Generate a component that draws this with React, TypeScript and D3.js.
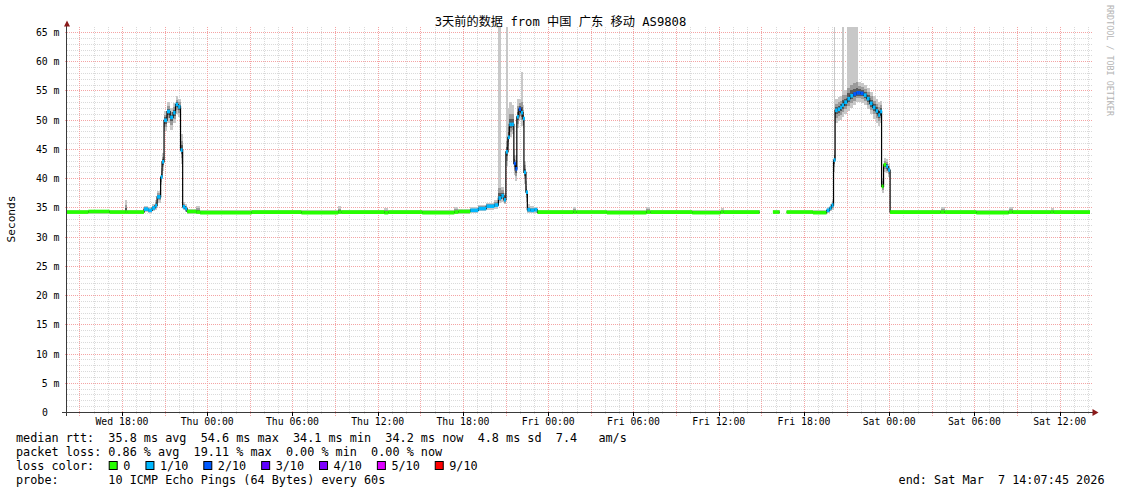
import React from 'react';
import * as d3 from 'd3';

// ---------- data ----------
// time axis: 3 days ending Sat Mar 7 14:07:45 2026
const START_UTC = Date.UTC(2026, 2, 4, 14, 7, 45);
const SPAN_HOURS = 72;

// sample: [hours since start, median ms (null = no data), loss (tenths), smoke min ms, smoke max ms]
type Sample = [number, number | null, number, number | null, number | null];

const wedBaseline: Sample[] = [
  [0.0, 34.2, 0, 33.9, 34.5],
  [1.5, 34.3, 0, 33.9, 34.6],
  [3.0, 34.2, 0, 33.9, 34.5],
  [4.09, 34.2, 0, 33.9, 36.3],
  [4.23, 34.2, 0, 33.9, 34.6],
];

const wedPeak: Sample[] = [
  [5.42, 34.7, 1, 34.2, 35.3],
  [5.71, 34.5, 1, 34.1, 35.0],
  [5.99, 34.9, 1, 34.3, 35.6],
  [6.2, 35.3, 1, 34.5, 36.2],
  [6.34, 36.8, 1, 35.8, 37.8],
  [6.59, 40.2, 1, 38.8, 41.8],
  [6.69, 42.8, 1, 41.2, 44.3],
  [6.83, 49.9, 1, 48.0, 51.5],
  [7.04, 51.4, 1, 49.5, 53.0],
  [7.26, 50.4, 1, 48.3, 52.0],
  [7.47, 51.2, 1, 49.5, 52.8],
  [7.64, 52.6, 1, 51.0, 54.0],
  [7.82, 52.2, 1, 50.5, 53.5],
  [7.99, 44.8, 1, 42.5, 47.5],
  [8.14, 35.1, 1, 34.5, 36.0],
  [8.31, 34.8, 1, 34.2, 35.6],
  [8.45, 34.3, 0, 33.9, 34.8],
];

const thuBaseline: Sample[] = [
  [9.09, 34.2, 0, 33.9, 35.3],
  [9.37, 34.1, 0, 33.8, 34.6],
  [13.0, 34.2, 0, 33.9, 34.5],
  [16.5, 34.1, 0, 33.8, 34.5],
  [19.09, 34.2, 0, 33.9, 35.2],
  [19.3, 34.2, 0, 33.9, 34.5],
  [22.33, 34.1, 0, 33.8, 34.9],
  [22.61, 34.2, 0, 33.9, 34.5],
  [25.0, 34.1, 0, 33.8, 34.5],
  [27.26, 34.2, 0, 33.9, 35.0],
  [27.54, 34.3, 0, 33.9, 34.7],
];

const thuPeak: Sample[] = [
  [28.39, 34.5, 1, 34.0, 35.0],
  [28.95, 34.8, 1, 34.3, 35.4],
  [29.51, 35.2, 1, 34.6, 35.8],
  [30.08, 35.4, 1, 34.8, 36.2],
  [30.36, 36.6, 1, 35.8, 66.0],
  [30.57, 37.0, 1, 36.0, 38.5],
  [30.75, 36.3, 1, 35.5, 37.5],
  [30.89, 44.5, 1, 42.0, 66.0],
  [31.03, 47.0, 1, 44.5, 52.0],
  [31.13, 49.2, 1, 47.0, 53.0],
  [31.31, 49.2, 1, 47.5, 52.5],
  [31.45, 42.5, 2, 40.5, 45.0],
  [31.56, 41.6, 2, 39.5, 44.0],
  [31.66, 50.5, 1, 48.5, 53.5],
  [31.8, 51.8, 2, 50.0, 53.5],
  [31.95, 51.2, 1, 49.0, 58.2],
  [32.09, 50.2, 1, 48.5, 52.5],
  [32.16, 41.0, 1, 39.0, 43.0],
  [32.3, 37.6, 1, 36.0, 39.5],
  [32.4, 34.6, 1, 34.0, 35.5],
  [32.61, 34.5, 1, 34.0, 35.2],
  [32.89, 34.6, 1, 34.1, 35.1],
  [33.11, 34.2, 0, 33.9, 34.6],
];

const friBaseline: Sample[] = [
  [35.64, 34.2, 0, 33.9, 35.0],
  [35.85, 34.2, 0, 33.9, 34.5],
  [38.0, 34.1, 0, 33.8, 34.5],
  [40.78, 34.2, 0, 33.9, 35.0],
  [41.06, 34.2, 0, 33.9, 34.5],
  [44.0, 34.1, 0, 33.8, 34.5],
  [46.0, 34.2, 0, 33.9, 34.9],
  [46.21, 34.2, 0, 33.9, 34.5],
  [48.74, null, 0, null, null],
  [49.68, 34.2, 0, 33.9, 34.5],
  [50.15, null, 0, null, null],
  [50.64, 34.2, 0, 33.9, 34.5],
  [52.5, 34.1, 0, 33.8, 34.5],
];

const friPeak: Sample[] = [
  [53.46, 34.5, 1, 34.0, 35.0],
  [53.67, 34.9, 1, 34.3, 35.5],
  [53.81, 35.4, 1, 34.6, 36.5],
  [53.95, 43.1, 1, 41.0, 66.0],
  [54.06, 51.6, 1, 49.5, 53.5],
  [54.24, 51.8, 1, 49.8, 53.8],
  [54.41, 52.1, 1, 50.0, 54.0],
  [54.52, 52.5, 1, 50.5, 66.0],
  [54.7, 53.0, 1, 51.0, 55.0],
  [54.92, 53.6, 1, 51.5, 66.0],
  [55.13, 54.1, 1, 52.0, 66.0],
  [55.34, 54.4, 2, 52.5, 66.0],
  [55.55, 54.6, 2, 53.0, 66.0],
  [55.68, 54.6, 2, 53.0, 56.5],
  [55.86, 54.5, 2, 52.8, 56.3],
  [56.07, 54.2, 1, 52.5, 56.0],
  [56.28, 53.6, 1, 51.8, 55.5],
  [56.49, 52.8, 1, 51.0, 54.8],
  [56.7, 52.1, 1, 50.2, 54.0],
  [56.91, 51.5, 1, 49.5, 53.5],
  [57.09, 50.8, 1, 49.0, 53.0],
  [57.23, 51.4, 1, 49.5, 53.2],
  [57.33, 38.6, 0, 37.5, 40.0],
  [57.47, 42.3, 0, 41.0, 43.5],
  [57.65, 42.0, 1, 40.8, 43.2],
  [57.79, 41.4, 1, 40.2, 42.5],
  [57.93, 34.2, 0, 33.9, 34.6],
];

const satBaseline: Sample[] = [
  [61.49, 34.2, 0, 33.9, 35.0],
  [61.77, 34.2, 0, 33.9, 34.5],
  [64.0, 34.1, 0, 33.8, 34.5],
  [66.28, 34.2, 0, 33.9, 35.0],
  [66.56, 34.2, 0, 33.9, 34.5],
  [69.24, 34.2, 0, 33.9, 34.9],
  [69.45, 34.2, 0, 33.9, 34.5],
  [72.0, 34.2, 0, 33.9, 34.5],
];

const yTickValues = [0, 5, 10, 15, 20, 25, 30, 35, 40, 45, 50, 55, 60, 65];
const yTickLabels = ['0', '5 m', '10 m', '15 m', '20 m', '25 m', '30 m', '35 m', '40 m', '45 m', '50 m', '55 m', '60 m', '65 m'];
const xTickLabels = [
  'Wed 18:00', 'Thu 00:00', 'Thu 06:00', 'Thu 12:00', 'Thu 18:00', 'Fri 00:00',
  'Fri 06:00', 'Fri 12:00', 'Fri 18:00', 'Sat 00:00', 'Sat 06:00', 'Sat 12:00',
];

const lossLabels = ['0', '1/10', '2/10', '3/10', '4/10', '5/10', '9/10'];
const lossColors = ['#26ff00', '#00b8ff', '#0059ff', '#5e00ff', '#7e00ff', '#dd00ff', '#ff0000'];
const lossColorByTenths: Record<number, string> = { 0: '#26ff00', 1: '#00b8ff', 2: '#0059ff', 3: '#5e00ff', 4: '#7e00ff', 5: '#dd00ff', 9: '#ff0000' };

const titleText = '3天前的数据 from 中国 广东 移动 AS9808';
const legendMedian = 'median rtt:  35.8 ms avg  54.6 ms max  34.1 ms min  34.2 ms now  4.8 ms sd  7.4   am/s';
const legendLoss = 'packet loss: 0.86 % avg  19.11 % max  0.00 % min  0.00 % now';
const legendLossColor = 'loss color:';
const legendProbe = 'probe:       10 ICMP Echo Pings (64 Bytes) every 60s';
const legendEnd = 'end: Sat Mar  7 14:07:45 2026';
const yAxisTitle = 'Seconds';
const watermark = 'RRDTOOL / TOBI OETIKER';

// ---------- component ----------
const MONO = "'DejaVu Sans Mono', 'Noto Sans CJK SC', monospace";
const PRE: React.CSSProperties = { whiteSpace: 'pre' };

export default function App() {
  const W = 1121;
  const H = 494;
  const left = 67;
  const right = 1090;
  const gridRight = 1092;
  const bottom = 412;
  const top = 27;

  const t0 = new Date(START_UTC);
  const t1 = new Date(START_UTC + SPAN_HOURS * 3600e3);
  const x = d3.scaleUtc().domain([t0, t1]).range([left, right]);
  const y = d3.scaleLinear().domain([0, 65.86]).range([bottom, top]).clamp(true);
  const toDate = (h: number) => new Date(START_UTC + h * 3600e3);

  const samples: Sample[] = [
    ...wedBaseline, ...wedPeak, ...thuBaseline, ...thuPeak,
    ...friBaseline, ...friPeak, ...satBaseline,
  ];

  const crisp = (v: number) => Math.round(v) + 0.5;

  const hourTicks = x.ticks(d3.utcHour.every(1)!);
  const majorTicks = x.ticks(d3.utcHour.every(3)!);
  const labelTicks = x.ticks(d3.utcHour.every(6)!);
  const minorY = d3.range(0, 66, 1);

  const segs: { x0: number; x1: number; s: Sample }[] = [];
  for (let i = 0; i < samples.length - 1; i++) {
    const s = samples[i];
    if (s[1] == null) continue;
    segs.push({ x0: x(toDate(s[0])), x1: x(toDate(samples[i + 1][0])), s });
  }

  const line = d3
    .line<Sample>()
    .defined((d) => d[1] != null)
    .x((d) => x(toDate(d[0])))
    .y((d) => y(d[1] as number))
    .curve(d3.curveStepAfter);

  let lx = 108.7;
  const legendItems = lossLabels.map((lab, i) => {
    const item = { lab, color: lossColors[i], bx: lx, tx: lx + 14.5 };
    lx = item.tx + lab.length * 7.04 + 15.2;
    return item;
  });

  return (
    <svg
      width={W}
      height={H}
      style={{ position: 'absolute', left: 0, top: 0, background: '#fff' }}
      xmlns="http://www.w3.org/2000/svg"
    >
      <rect x={0} y={0} width={W} height={H} fill="#ffffff" />

      {/* minor grid */}
      <g stroke="#dadada" strokeWidth={1} strokeDasharray="1,1" shapeRendering="crispEdges">
        {minorY.map((v) => (
          <line key={'my' + v} x1={left} x2={gridRight} y1={crisp(y(v))} y2={crisp(y(v))} />
        ))}
        {hourTicks.map((t, i) => (
          <line key={'mx' + i} x1={crisp(x(t))} x2={crisp(x(t))} y1={top} y2={bottom + 3} />
        ))}
      </g>
      {/* major grid */}
      <g stroke="#f4a4a4" strokeWidth={1} strokeDasharray="1,1" shapeRendering="crispEdges">
        {yTickValues.map((v) => (
          <line key={'My' + v} x1={left - 2} x2={gridRight} y1={crisp(y(v))} y2={crisp(y(v))} />
        ))}
        {majorTicks.map((t, i) => (
          <line key={'Mx' + i} x1={crisp(x(t))} x2={crisp(x(t))} y1={top} y2={bottom + 4} />
        ))}
      </g>

      {/* smoke */}
      <g shapeRendering="crispEdges">
        {segs.map(({ x0, x1, s }, i) => {
          const med = s[1] as number;
          const lo = s[3] as number;
          const hi = s[4] as number;
          const midLo = med - Math.min(1.8, (med - lo) * 0.6);
          const midHi = med + Math.min(1.8, (hi - med) * 0.6);
          const inLo = med - Math.min(0.9, (med - lo) * 0.3);
          const inHi = med + Math.min(0.9, (hi - med) * 0.3);
          const w = Math.max(1, x1 - x0);
          return (
            <g key={'s' + i}>
              <rect x={x0} width={w} y={y(hi)} height={Math.max(0, y(lo) - y(hi))} fill="#c8c8c8" />
              <rect x={x0} width={w} y={y(midHi)} height={Math.max(0, y(midLo) - y(midHi))} fill="#9a9a9a" />
              <rect x={x0} width={w} y={y(inHi)} height={Math.max(0, y(inLo) - y(inHi))} fill="#5a5a5a" />
            </g>
          );
        })}
      </g>

      {/* median line */}
      <path d={line(samples) || ''} fill="none" stroke="#000" strokeWidth={1.2} />
      {/* loss-coloured median */}
      <g>
        {segs.map(({ x0, x1, s }, i) => (
          <line
            key={'c' + i}
            x1={x0}
            x2={Math.max(x1, x0 + 2)}
            y1={y(s[1] as number)}
            y2={y(s[1] as number)}
            stroke={lossColorByTenths[s[2]]}
            strokeWidth={3.6}
          />
        ))}
      </g>

      {/* axes */}
      <g stroke="#3a3a3a" strokeWidth={1} shapeRendering="crispEdges">
        <line x1={left - 5} x2={1093} y1={bottom + 0.5} y2={bottom + 0.5} />
        <line x1={left - 0.5} x2={left - 0.5} y1={bottom + 4} y2={26} />
        {labelTicks.map((t, i) => (
          <line key={'lt' + i} x1={crisp(x(t))} x2={crisp(x(t))} y1={bottom} y2={bottom + 4} stroke="#000" />
        ))}
      </g>
      <polygon points="64,26.5 70,26.5 67,20.5" fill="#8b1a1a" />
      <polygon points="1092.5,409 1092.5,416 1098.5,412.5" fill="#8b1a1a" />

      {/* y tick labels */}
      <g fontFamily={MONO} fontSize={9.8} fill="#000">
        {yTickValues.map((v, i) => (
          <text key={'yl' + v} x={v === 0 ? 48 : 59.5} y={y(v) + 4} textAnchor="end" xmlSpace="preserve" style={PRE}>
            {yTickLabels[i]}
          </text>
        ))}
      </g>

      {/* x tick labels */}
      <g fontFamily={MONO} fontSize={9.8} fill="#000">
        {labelTicks.map((t, i) => (
          <text key={'xl' + i} x={x(t)} y={425} textAnchor="middle" xmlSpace="preserve" style={PRE}>
            {xTickLabels[i]}
          </text>
        ))}
      </g>

      {/* title */}
      <text x={560.5} y={25.5} textAnchor="middle" fontFamily={MONO} fontSize={12.2} fill="#000" xmlSpace="preserve" style={PRE}>
        {titleText}
      </text>

      {/* y axis title */}
      <text
        transform="translate(15,219) rotate(-90)"
        textAnchor="middle"
        fontFamily={MONO}
        fontSize={11.2}
        fill="#000"
      >
        {yAxisTitle}
      </text>

      {/* watermark */}
      <text
        transform="translate(1107,5) rotate(90)"
        fontFamily={MONO}
        fontSize={8.4}
        fill="#b4b4b4"
        xmlSpace="preserve"
        style={PRE}
      >
        {watermark}
      </text>

      {/* legend */}
      <g fontFamily={MONO} fontSize={11.8} fill="#000">
        <text x={16} y={441.5} xmlSpace="preserve" style={PRE}>{legendMedian}</text>
        <text x={16} y={455.5} xmlSpace="preserve" style={PRE}>{legendLoss}</text>
        <text x={16} y={469.5} xmlSpace="preserve" style={PRE}>{legendLossColor}</text>
        {legendItems.map((it) => (
          <g key={'li' + it.lab}>
            <rect x={it.bx + 0.5} y={461.5} width={8} height={8} fill={it.color} stroke="#000" strokeWidth={1} />
            <text x={it.tx} y={469.5} xmlSpace="preserve" style={PRE}>{it.lab}</text>
          </g>
        ))}
        <text x={16} y={483.5} xmlSpace="preserve" style={PRE}>{legendProbe}</text>
        <text x={1104.5} y={483.5} textAnchor="end" xmlSpace="preserve" style={PRE}>{legendEnd}</text>
      </g>
    </svg>
  );
}
